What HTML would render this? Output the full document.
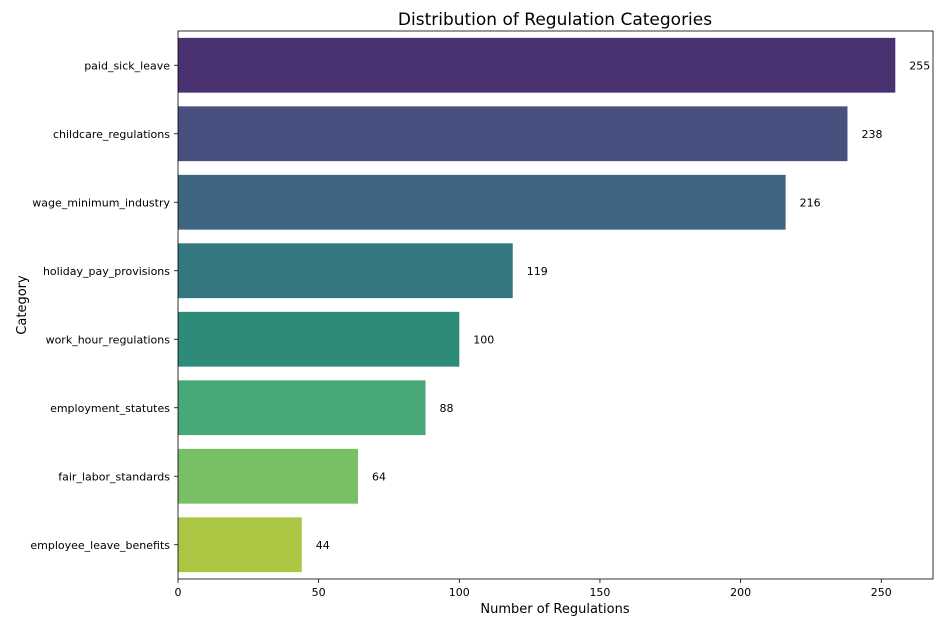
<!DOCTYPE html>
<html><head><meta charset="utf-8"><style>
body{margin:0;background:#fff}
svg{display:block;font-family:"DejaVu Sans","Liberation Sans",sans-serif}
</style></head><body>
<svg id="chart" width="946" height="630">
<text x="555" y="25" font-size="17" text-anchor="middle">Distribution of Regulation Categories</text>
<g id="bars"></g><g id="axes"></g>
<text x="555" y="613" font-size="13" text-anchor="middle">Number of Regulations</text>
<text x="26" y="305" font-size="13" text-anchor="middle" transform="rotate(-90 26 305)">Category</text>
</svg>
<script>
const categories=["paid_sick_leave","childcare_regulations","wage_minimum_industry","holiday_pay_provisions","work_hour_regulations","employment_statutes","fair_labor_standards","employee_leave_benefits"];
const values=[255,238,216,119,100,88,64,44];
const colors=["#4a3270","#48507f","#3e6683","#34777e","#2e8b7a","#48a878","#78bf65","#abc642"];
const xTicks=[0,50,100,150,200,250];
const L=178,R=933,T=31,B=579,xMax=268.4;
const NS="http://www.w3.org/2000/svg";
const x=v=>L+(R-L)*v/xMax;
const band=(B-T)/categories.length;
const y=i=>T+band*i;
const bars=document.getElementById('bars'),axes=document.getElementById('axes');
function mk(tag,attrs,parent){const e=document.createElementNS(NS,tag);for(const k in attrs)e.setAttribute(k,attrs[k]);parent.appendChild(e);return e;}
categories.forEach((c,i)=>{
  const r=mk('rect',{x:L,y:y(i)+band*0.1,width:x(values[i])-L,height:band*0.8,fill:colors[i]},bars);
  
  
  const t=mk('text',{x:x(values[i])+14,y:y(i)+band/2+4,'font-size':11},bars);t.textContent=values[i];
  
  
  const l=mk('text',{x:L-8,y:y(i)+band/2+4,'font-size':11,'text-anchor':'end'},axes);l.textContent=c;
  
  
  mk('line',{x1:L-4,x2:L,y1:y(i)+band/2,y2:y(i)+band/2,stroke:'#000','stroke-width':0.8},axes);
});
xTicks.forEach(v=>{
  mk('line',{x1:x(v),x2:x(v),y1:B,y2:B+4,stroke:'#000','stroke-width':0.8},axes);
  const t=mk('text',{x:x(v),y:B+17,'font-size':11,'text-anchor':'middle'},axes);t.textContent=v;
  
  
});
const f=mk('rect',{x:L,y:T,width:R-L,height:B-T,fill:'none',stroke:'#000','stroke-width':0.8},axes);


</script>
</body></html>
